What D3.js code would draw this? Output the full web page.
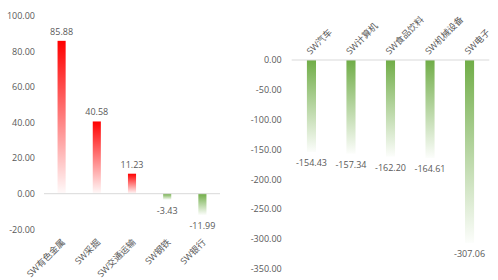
<!DOCTYPE html>
<html>
<head>
<meta charset="utf-8">
<script src="https://cdn.jsdelivr.net/npm/d3@7"></script>
<style>
  html, body { margin: 0; padding: 0; background: #fff; }
  svg text { font-family: "Open Sans", "Noto Sans CJK SC", sans-serif; fill: #595959; }
</style>
</head>
<body>
<svg id="chart" width="498" height="280"></svg>
<script>
const leftCats = ["SW有色金属", "SW采掘", "SW交通运输", "SW钢铁", "SW银行"];
const leftVals = [85.88, 40.58, 11.23, -3.43, -11.99];
const leftTicks = [100, 80, 60, 40, 20, 0, -20];

const rightCats = ["SW汽车", "SW计算机", "SW食品饮料", "SW机械设备", "SW电子"];
const rightVals = [-154.43, -157.34, -162.20, -164.61, -307.06];
const rightTicks = [0, -50, -100, -150, -200, -250, -300, -350];

const svg = d3.select("#chart");
const defs = svg.append("defs");
function grad(id, color) {
  const g = defs.append("linearGradient").attr("id", id)
    .attr("x1", 0).attr("y1", 0).attr("x2", 0).attr("y2", 1);
  g.append("stop").attr("offset", "0%").attr("stop-color", color).attr("stop-opacity", 1);
  g.append("stop").attr("offset", "100%").attr("stop-color", color).attr("stop-opacity", 0.02);
}
grad("gRed", "#FF0000");
grad("gGreen", "#70AD47");

const fmt = d3.formatLocale({decimal: ".", thousands: ",", grouping: [3], currency: ["", ""], minus: "-"}).format(".2f");

function panel(cfg) {
  const x = d3.scaleBand().domain(cfg.cats).range([cfg.x0, cfg.x1]).paddingInner(0.77).paddingOuter(0.385);
  const y = d3.scaleLinear().domain(cfg.domain).range(cfg.yRange);
  const g = svg.append("g");

  const axis = d3.axisLeft(y).tickValues(cfg.ticks).tickSize(0).tickPadding(cfg.pad).tickFormat(fmt);
  const ag = g.append("g").attr("transform", `translate(${cfg.x0},0)`).call(axis);
  ag.select(".domain").remove();
  ag.selectAll("text").attr("font-size", 9).style("font-family", '"Open Sans", sans-serif').attr("fill", "#595959");

  g.selectAll("rect.bar").data(cfg.vals).enter().append("rect")
    .attr("class", "bar")
    .attr("x", (d, i) => x(cfg.cats[i]))
    .attr("width", x.bandwidth())
    .attr("y", d => y(Math.max(0, d)))
    .attr("height", d => Math.abs(y(d) - y(0)))
    .attr("fill", d => d >= 0 ? "url(#gRed)" : "url(#gGreen)");

  g.append("line").attr("x1", cfg.x0).attr("x2", cfg.x1)
    .attr("y1", y(0)).attr("y2", y(0)).attr("stroke", "#D9D9D9").attr("stroke-width", 1);

  g.selectAll("text.val").data(cfg.vals).enter().append("text")
    .attr("class", "val")
    .attr("x", (d, i) => x(cfg.cats[i]) + x.bandwidth() / 2)
    .attr("y", d => d >= 0 ? y(d) - 6 : y(d) + 14)
    .attr("text-anchor", "middle")
    .attr("font-size", 9)
    .text(d => fmt(d));

  g.selectAll("text.cat").data(cfg.cats).enter().append("text")
    .attr("class", "cat")
    .attr("font-size", 9)
    .attr("text-anchor", cfg.catAnchor)
    .attr("transform", d => `translate(${x(d) + x.bandwidth() / 2 + cfg.catDx},${cfg.catY}) rotate(-45)`)
    .text(d => d);
}

panel({
  cats: leftCats, vals: leftVals, ticks: leftTicks,
  domain: [-20, 100], yRange: [229.3, 15.7],
  x0: 44, x1: 220, pad: 9,
  catAnchor: "end", catDx: 4, catY: 243
});

panel({
  cats: rightCats, vals: rightVals, ticks: rightTicks,
  domain: [-350, 0], yRange: [268.5, 60],
  x0: 291.7, x1: 489.3, pad: 10,
  catAnchor: "start", catDx: -1, catY: 55
});
</script>
</body>
</html>
